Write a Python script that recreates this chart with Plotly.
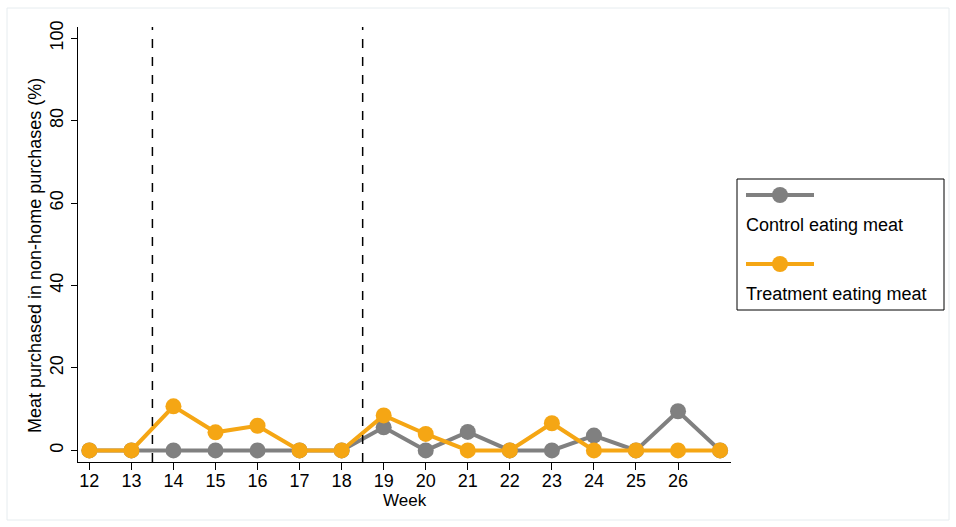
import plotly.graph_objects as go

weeks = [12, 13, 14, 15, 16, 17, 18, 19, 20, 21, 22, 23, 24, 25, 26, 27]
control = [0, 0, 0, 0, 0, 0, 0, 5.6, 0, 4.5, 0, 0, 3.6, 0, 9.5, 0]
treatment = [0, 0, 10.7, 4.4, 6.0, 0, 0, 8.5, 4.0, 0, 0, 6.6, 0, 0, 0, 0]
x_tick_vals = list(range(12, 27))
y_tick_vals = [0, 20, 40, 60, 80, 100]
intervention_lines = [13.5, 18.5]
series_names = ["Control eating meat", "Treatment eating meat"]
x_title = "Week"
y_title = "Meat purchased in non-home purchases (%)"

GRAY = "#808080"
ORANGE = "#F5A614"
FONT = "Liberation Sans, Arial, sans-serif"

fig = go.Figure()
fig.add_trace(go.Scatter(x=weeks, y=control, mode="lines+markers", name=series_names[0],
                         line=dict(color=GRAY, width=4), marker=dict(color=GRAY, size=16),
                         showlegend=False, cliponaxis=False))
fig.add_trace(go.Scatter(x=weeks, y=treatment, mode="lines+markers", name=series_names[1],
                         line=dict(color=ORANGE, width=4), marker=dict(color=ORANGE, size=16),
                         showlegend=False, cliponaxis=False))

for xv in intervention_lines:
    fig.add_shape(type="line", x0=xv, x1=xv, xref="x", y0=0, y1=1, yref="paper",
                  line=dict(color="black", width=1.5, dash="dash"))

# geometry helpers for custom legend (plot area px: x 78..731, y 27..462)
L, R, T, B = 78, 731, 27, 462
def px(x):
    return (x - L) / (R - L)
def py(y):
    return (B - y) / (B - T)

# legend box
fig.add_shape(type="rect", xref="paper", yref="paper", x0=px(737), x1=px(944), y0=py(310), y1=py(179),
              line=dict(color="black", width=1), fillcolor="white")
# outer faint border
fig.add_shape(type="rect", xref="paper", yref="paper", x0=px(7), x1=px(949), y0=py(520), y1=py(8),
              line=dict(color="#e6ecef", width=1), fillcolor="rgba(0,0,0,0)", layer="below")

for i, (col, name) in enumerate([(GRAY, series_names[0]), (ORANGE, series_names[1])]):
    ly = 195 + i * 69
    fig.add_shape(type="line", xref="paper", yref="paper", x0=px(746), x1=px(814), y0=py(ly), y1=py(ly),
                  line=dict(color=col, width=4))
    fig.add_shape(type="circle", xref="paper", yref="paper", x0=px(772), x1=px(788), y0=py(ly + 8), y1=py(ly - 8),
                  line=dict(color=col, width=0), fillcolor=col)
    fig.add_annotation(xref="paper", yref="paper", x=px(744), y=py(ly + 30), text=name, showarrow=False,
                       xanchor="left", yanchor="middle", font=dict(size=18, color="black", family=FONT))

# axis titles
fig.add_annotation(xref="paper", yref="paper", x=px(35), y=py(256), text=y_title, textangle=-90,
                   showarrow=False, xanchor="center", yanchor="middle",
                   font=dict(size=18, color="black", family=FONT))
fig.add_annotation(xref="paper", yref="paper", x=px(404.5), y=py(500), text=x_title,
                   showarrow=False, xanchor="center", yanchor="middle",
                   font=dict(size=17, color="black", family=FONT))

fig.update_layout(
    width=956, height=527,
    margin=dict(l=L, r=956 - R, t=T, b=527 - B),
    paper_bgcolor="white", plot_bgcolor="white",
    font=dict(family=FONT, size=18, color="black"),
    xaxis=dict(range=[11.73, 27.26], tickvals=x_tick_vals, ticks="outside", ticklen=7, tickcolor="black",
               showline=True, linecolor="black", linewidth=1, showgrid=False, zeroline=False,
               tickfont=dict(size=18), ticklabelstandoff=-5),
    yaxis=dict(range=[-2.8, 102.7], tickvals=y_tick_vals, ticks="outside", ticklen=6, tickcolor="black",
               showline=True, linecolor="black", linewidth=1, showgrid=False, zeroline=False,
               tickangle=-90, tickfont=dict(size=18), ticklabelstandoff=1),
)

fig.write_html("out.html", post_script="document.body.style.margin='0';",
               config={"displayModeBar": False})
